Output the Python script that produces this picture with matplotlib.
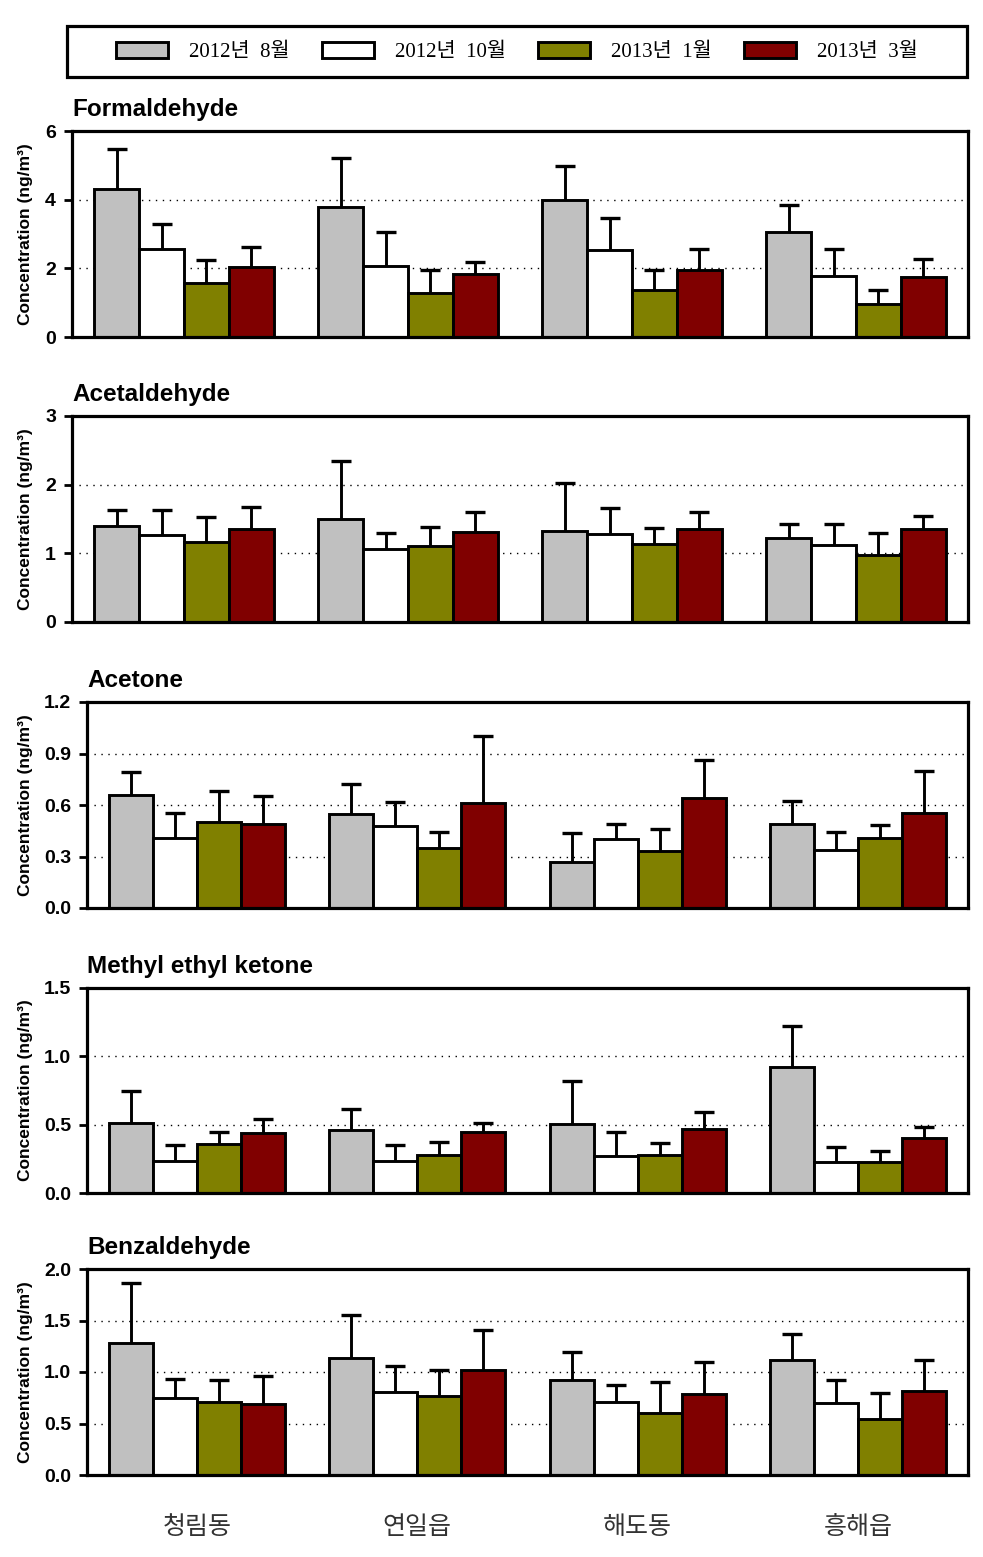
import numpy as np
import matplotlib
matplotlib.use("Agg")
import matplotlib.pyplot as plt
from matplotlib.ticker import FormatStrFormatter, MultipleLocator
from matplotlib.transforms import blended_transform_factory
from matplotlib.patches import Rectangle

# ---------------- data ----------------
sites = ['청림동', '연일읍', '해도동', '흥해읍']
periods = ['2012년  8월', '2012년  10월', '2013년  1월', '2013년  3월']
compounds = ['Formaldehyde', 'Acetaldehyde', 'Acetone', 'Methyl ethyl ketone', 'Benzaldehyde']

# mean per period (rows) for each site (columns)
formaldehyde_mean = [[4.30, 3.78, 4.00, 3.07],
                     [2.55, 2.06, 2.53, 1.79],
                     [1.56, 1.27, 1.36, 0.95],
                     [2.05, 1.83, 1.96, 1.75]]
formaldehyde_sd = [[1.17, 1.42, 0.97, 0.77],
                   [0.73, 1.01, 0.93, 0.76],
                   [0.67, 0.68, 0.58, 0.43],
                   [0.56, 0.36, 0.59, 0.51]]

acetaldehyde_mean = [[1.40, 1.50, 1.32, 1.23],
                     [1.27, 1.07, 1.28, 1.12],
                     [1.16, 1.11, 1.13, 0.98],
                     [1.36, 1.31, 1.35, 1.36]]
acetaldehyde_sd = [[0.23, 0.85, 0.70, 0.20],
                   [0.36, 0.22, 0.38, 0.30],
                   [0.37, 0.28, 0.24, 0.31],
                   [0.32, 0.29, 0.25, 0.18]]

acetone_mean = [[0.66, 0.55, 0.27, 0.49],
                [0.41, 0.48, 0.40, 0.34],
                [0.50, 0.35, 0.33, 0.41],
                [0.49, 0.61, 0.64, 0.555]]
acetone_sd = [[0.13, 0.17, 0.165, 0.135],
              [0.145, 0.14, 0.09, 0.105],
              [0.18, 0.09, 0.13, 0.075],
              [0.16, 0.39, 0.22, 0.245]]

mek_mean = [[0.51, 0.46, 0.505, 0.92],
            [0.235, 0.235, 0.27, 0.23],
            [0.355, 0.275, 0.275, 0.23],
            [0.44, 0.445, 0.465, 0.405]]
mek_sd = [[0.235, 0.155, 0.315, 0.30],
          [0.115, 0.115, 0.18, 0.105],
          [0.09, 0.095, 0.09, 0.075],
          [0.105, 0.07, 0.125, 0.08]]

benzaldehyde_mean = [[1.285, 1.135, 0.925, 1.115],
                     [0.745, 0.81, 0.705, 0.695],
                     [0.705, 0.77, 0.605, 0.545],
                     [0.69, 1.015, 0.785, 0.82]]
benzaldehyde_sd = [[0.58, 0.42, 0.27, 0.25],
                   [0.19, 0.25, 0.17, 0.23],
                   [0.215, 0.25, 0.30, 0.25],
                   [0.27, 0.39, 0.31, 0.30]]

y_max = [6, 3, 1.2, 1.5, 2.0]
y_step = [2, 1, 0.3, 0.5, 0.5]
y_fmt = ['%d', '%d', '%.1f', '%.1f', '%.1f']

# ---------------- style ----------------
colors = ['#C0C0C0', '#FFFFFF', '#808000', '#800000']
W, H = 983, 1557
fig = plt.figure(figsize=(W / 100, H / 100), dpi=100)

# axes boxes in pixels: (left, top, right, bottom)
boxes = [(72, 131, 968, 337), (72, 416, 968, 622), (87, 702, 968, 908),
         (87, 988, 968, 1193), (87, 1269, 968, 1475)]

means = [formaldehyde_mean, acetaldehyde_mean, acetone_mean, mek_mean, benzaldehyde_mean]
sds = [formaldehyde_sd, acetaldehyde_sd, acetone_sd, mek_sd, benzaldehyde_sd]

x = np.arange(len(sites))
bw = 0.2
offsets = [-0.3, -0.1, 0.1, 0.3]
sans = ['Liberation Sans', 'DejaVu Sans']

handles = []
for i, (l, t, r, b) in enumerate(boxes):
    ax = fig.add_axes([l / W, 1 - b / H, (r - l) / W, (b - t) / H])
    for k in range(4):
        m = np.array(means[i][k])
        s = np.array(sds[i][k])
        bars = ax.bar(x + offsets[k], m, width=bw, color=colors[k],
                      edgecolor='black', linewidth=2.1, zorder=2, label=periods[k])
        eb = ax.errorbar(x + offsets[k], m, yerr=[np.zeros_like(s), s], fmt='none',
                         ecolor='black', elinewidth=2.1, capsize=7, capthick=2.4, zorder=3)
        eb[1][0].set_visible(False)
        if i == 0:
            handles.append(bars)
    ax.set_xlim(-0.5, 3.5)
    ax.set_ylim(0, y_max[i])
    ax.yaxis.set_major_locator(MultipleLocator(y_step[i]))
    ax.yaxis.set_major_formatter(FormatStrFormatter(y_fmt[i]))
    ax.set_xticks([])
    for sp in ax.spines.values():
        sp.set_linewidth(2.3)
    ax.tick_params(axis='y', length=6, width=2, pad=5.5, labelsize=14)
    for lab in ax.get_yticklabels():
        lab.set_fontfamily(sans)
        lab.set_fontweight('bold')
    ax.set_axisbelow(True)
    ax.yaxis.grid(True, linestyle=(0, (1, 4)), color='black', linewidth=1.0)
    ax.set_title(compounds[i], loc='left', pad=10.5, fontsize=17.5, fontweight='bold',
                 family=sans)
    ax.set_ylabel('Concentration (ng/m³)', fontsize=12.5, fontweight='bold', family=sans)
    ax.yaxis.set_label_coords(33 / W, 0.5,
                              transform=blended_transform_factory(fig.transFigure, ax.transAxes))
    if i == 4:
        ax.set_xticks(x)
        ax.set_xticklabels(sites, family=['Noto Sans CJK KR', 'DejaVu Sans'],
                           fontsize=18, color='#333333')
        ax.tick_params(axis='x', length=0, pad=28)

leg = fig.legend(handles, periods, loc='center',
                 bbox_to_anchor=(517 / W, 1 - 52 / H),
                 ncol=4, frameon=False,
                 prop={'family': ['Liberation Serif', 'Noto Sans CJK KR'], 'size': 15},
                 handlelength=2.5, handleheight=0.85, handletextpad=1.0,
                 columnspacing=1.55, borderpad=0.2, borderaxespad=0)
fig.add_artist(Rectangle((67 / W, 1 - 77 / H), 900 / W, 51 / H, transform=fig.transFigure,
                         fill=False, edgecolor='black', linewidth=2.3))

fig.savefig('out.png', dpi=100)
